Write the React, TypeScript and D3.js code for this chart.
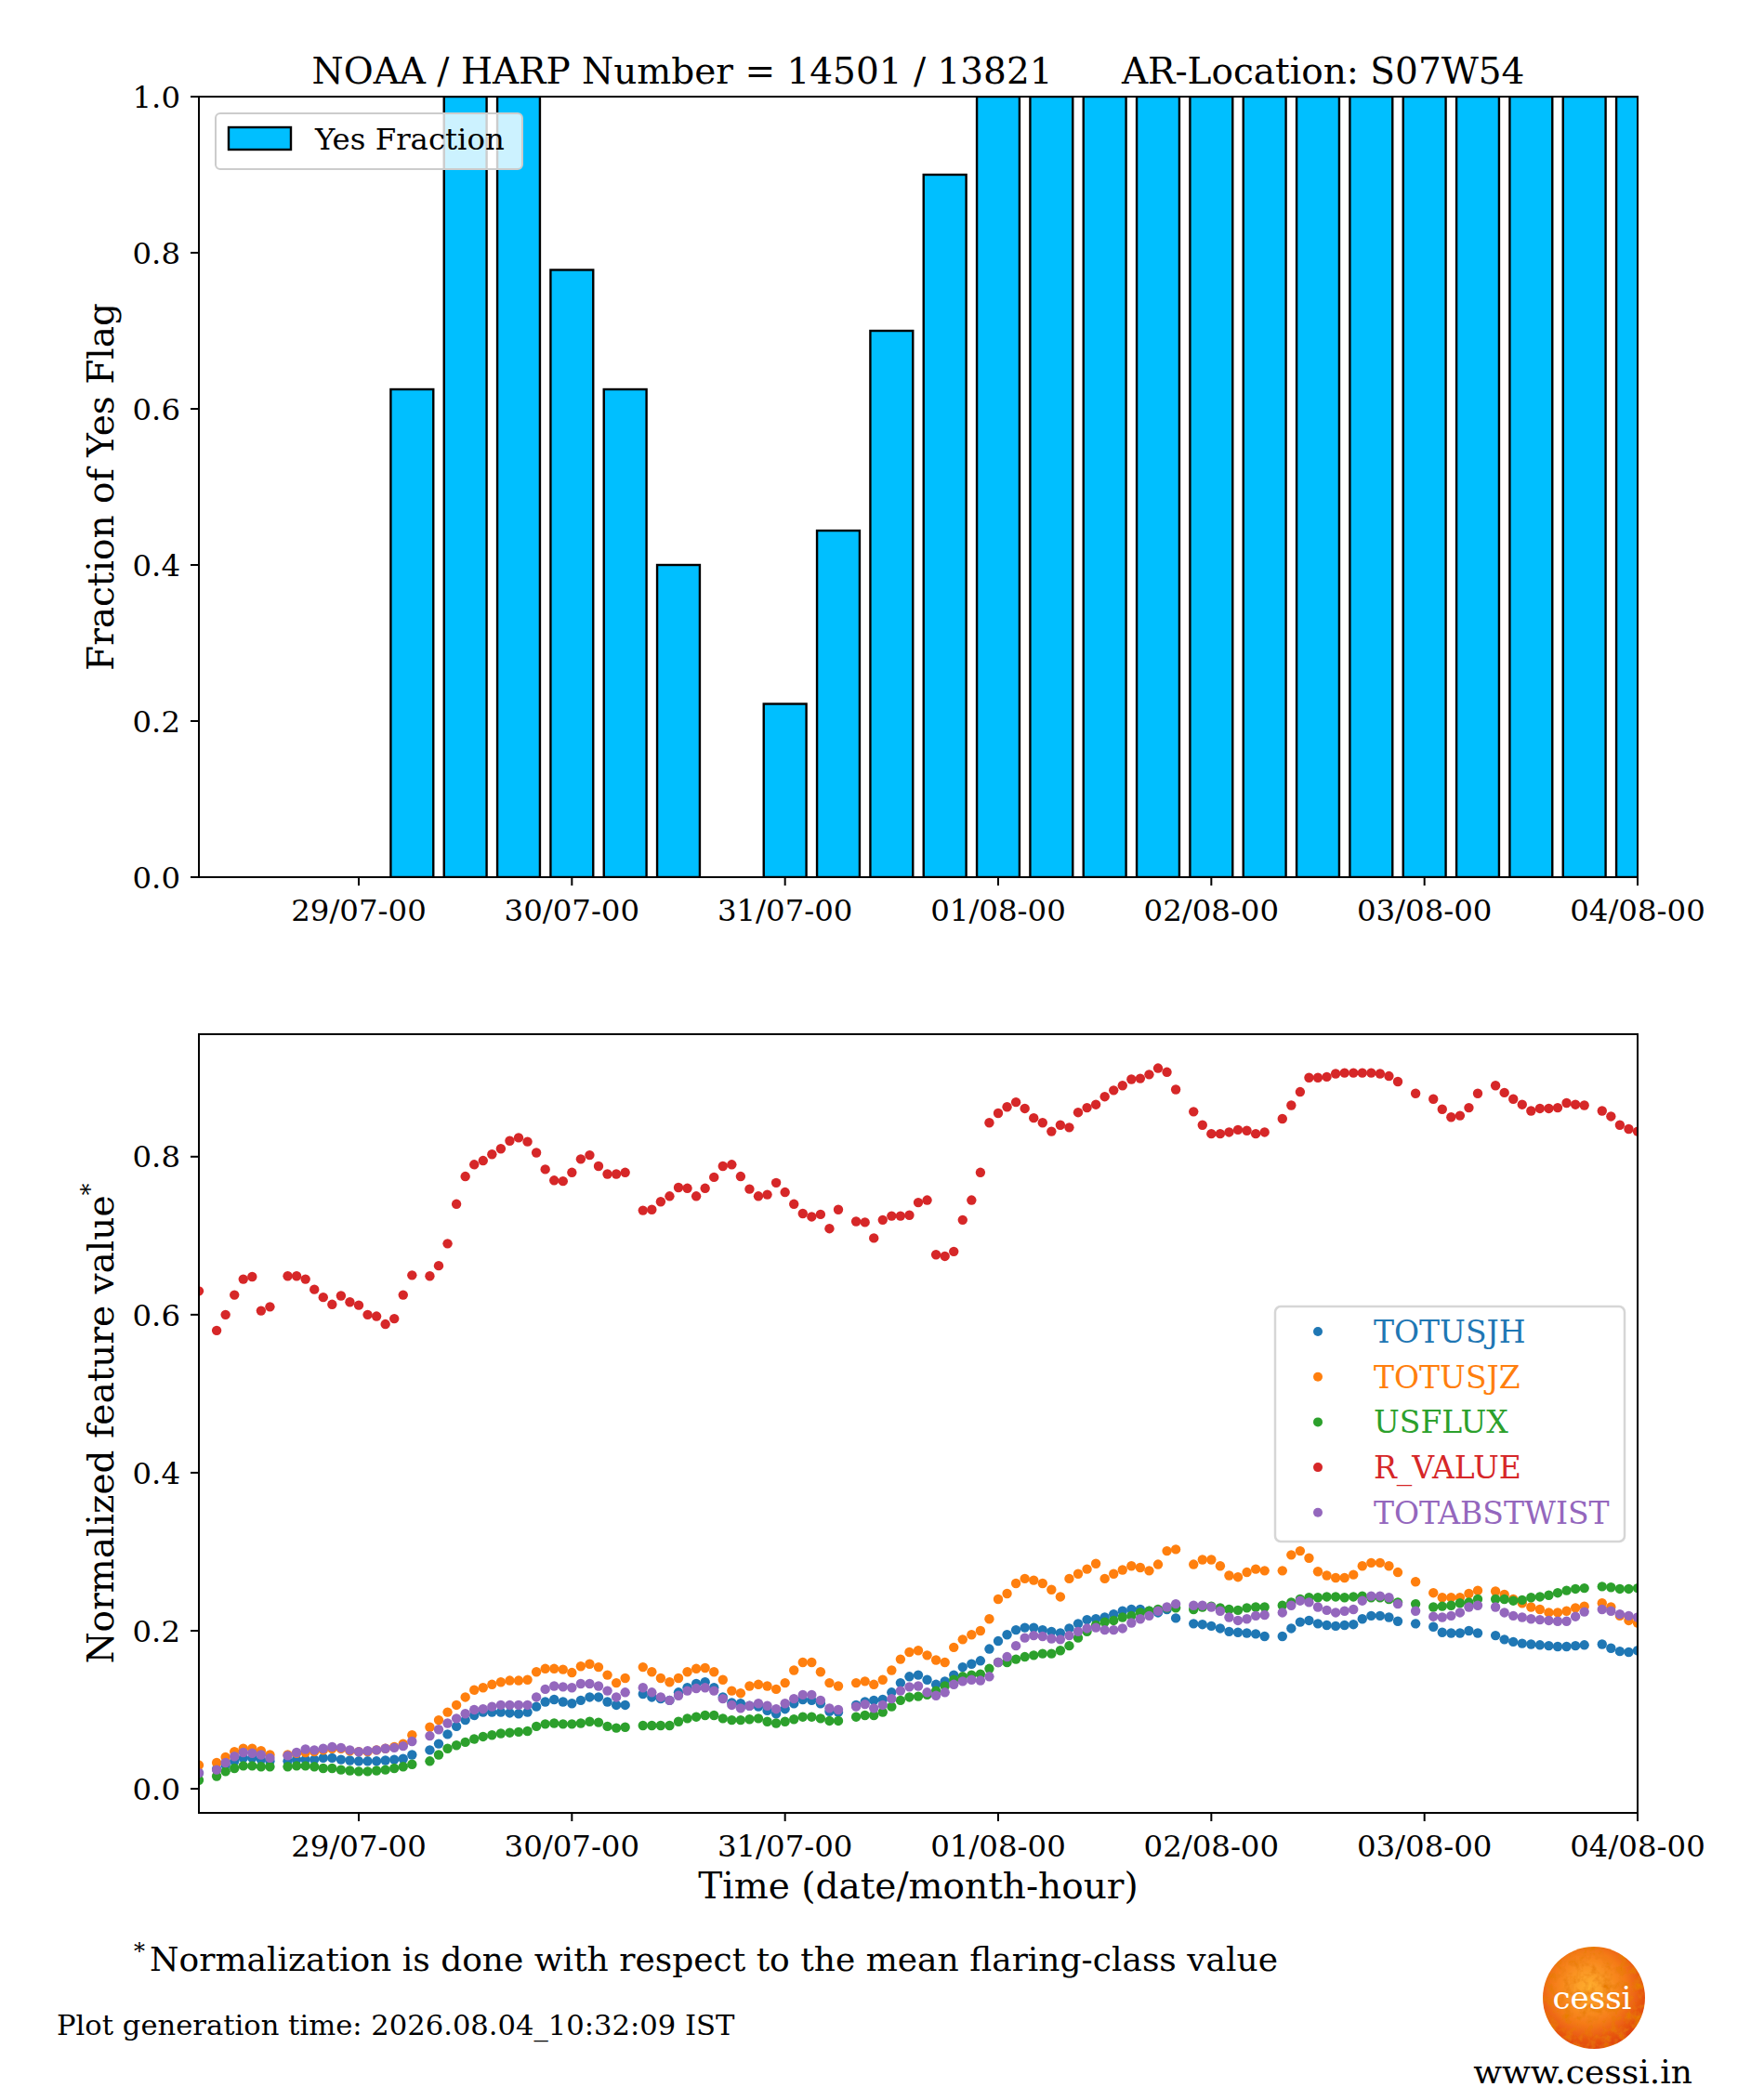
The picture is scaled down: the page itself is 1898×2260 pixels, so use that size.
import { useEffect, useRef } from "react";
import * as d3 from "d3";

const FONT = "'DejaVu Serif', serif";

// time window of both panels (UTC)
const startTime = new Date(Date.UTC(2026, 6, 28, 6));
const endTime = new Date(Date.UTC(2026, 7, 4, 0));
const dayTicks = ["2026-07-29", "2026-07-30", "2026-07-31", "2026-08-01", "2026-08-02", "2026-08-03", "2026-08-04"];

// top panel: fraction of YES flags in 6 hour bins
const barTimes = [
    "2026-07-29T06:00Z", "2026-07-29T12:00Z", "2026-07-29T18:00Z",
    "2026-07-30T00:00Z", "2026-07-30T06:00Z", "2026-07-30T12:00Z", "2026-07-30T18:00Z",
    "2026-07-31T00:00Z", "2026-07-31T06:00Z", "2026-07-31T12:00Z", "2026-07-31T18:00Z",
    "2026-08-01T00:00Z", "2026-08-01T06:00Z", "2026-08-01T12:00Z", "2026-08-01T18:00Z",
    "2026-08-02T00:00Z", "2026-08-02T06:00Z", "2026-08-02T12:00Z", "2026-08-02T18:00Z",
    "2026-08-03T00:00Z", "2026-08-03T06:00Z", "2026-08-03T12:00Z", "2026-08-03T18:00Z",
    "2026-08-04T00:00Z",
];
const yesFraction = [
    0.625, 1, 1,
    0.778, 0.625, 0.4, null,
    0.222, 0.444, 0.7, 0.9,
    1, 1, 1, 1,
    1, 1, 1, 1,
    1, 1, 1, 1,
    1,
];

// bottom panel: hourly samples from 28/07-06, normalized feature values
const TOTUSJH = [
    0.020, null, 0.025, 0.030, 0.035, 0.039, 0.039, 0.037, 0.035, null, 0.035, 0.037,
    0.037, 0.037, 0.039, 0.039, 0.037, 0.036, 0.035, 0.035, 0.035, 0.036, 0.037, 0.038,
    0.043, null, 0.049, 0.057, 0.069, 0.079, 0.087, 0.093, 0.097, 0.097, 0.097, 0.096,
    0.095, 0.097, 0.104, 0.110, 0.113, 0.110, 0.108, 0.112, 0.116, 0.116, 0.110, 0.106,
    0.106, null, 0.120, 0.116, 0.114, 0.112, 0.122, 0.128, 0.133, 0.135, 0.128, 0.116,
    0.109, 0.108, 0.105, 0.104, 0.099, 0.095, 0.101, 0.108, 0.113, 0.112, 0.108, 0.098,
    0.097, null, 0.106, 0.110, 0.112, 0.113, 0.122, 0.134, 0.142, 0.144, 0.138, 0.132,
    0.136, 0.144, 0.154, 0.158, 0.162, 0.177, 0.187, 0.195, 0.201, 0.204, 0.204, 0.201,
    0.199, 0.197, 0.203, 0.209, 0.214, 0.215, 0.217, 0.221, 0.225, 0.227, 0.227, 0.225,
    0.223, 0.227, 0.216, null, 0.209, 0.208, 0.206, 0.203, 0.199, 0.198, 0.197, 0.196,
    0.193, null, 0.193, 0.203, 0.211, 0.213, 0.209, 0.207, 0.206, 0.207, 0.208, 0.215,
    0.219, 0.219, 0.217, 0.212, null, 0.209, null, 0.205, 0.198, 0.197, 0.197, 0.200,
    0.197, null, 0.194, 0.189, 0.186, 0.184, 0.183, 0.182, 0.181, 0.180, 0.180, 0.181,
    0.182, null, 0.183, 0.178, 0.174, 0.173, 0.175,
];
const TOTUSJZ = [
    0.030, null, 0.033, 0.040, 0.047, 0.051, 0.051, 0.048, 0.043, null, 0.043, 0.045,
    0.046, 0.047, 0.049, 0.051, 0.051, 0.048, 0.047, 0.047, 0.049, 0.051, 0.053, 0.057,
    0.068, null, 0.078, 0.087, 0.097, 0.106, 0.116, 0.125, 0.128, 0.132, 0.135, 0.137,
    0.137, 0.138, 0.148, 0.152, 0.152, 0.151, 0.147, 0.155, 0.158, 0.154, 0.144, 0.134,
    0.140, null, 0.154, 0.148, 0.140, 0.135, 0.140, 0.148, 0.152, 0.153, 0.148, 0.138,
    0.124, 0.121, 0.130, 0.132, 0.130, 0.126, 0.134, 0.150, 0.160, 0.160, 0.148, 0.134,
    0.130, null, 0.134, 0.136, 0.132, 0.138, 0.150, 0.164, 0.173, 0.175, 0.169, 0.163,
    0.160, 0.179, 0.189, 0.195, 0.200, 0.215, 0.240, 0.247, 0.260, 0.266, 0.264, 0.260,
    0.252, 0.243, 0.266, 0.272, 0.278, 0.285, 0.266, 0.272, 0.277, 0.282, 0.280, 0.276,
    0.284, 0.301, 0.303, null, 0.284, 0.290, 0.290, 0.282, 0.270, 0.268, 0.274, 0.278,
    0.276, null, 0.276, 0.296, 0.301, 0.292, 0.275, 0.270, 0.267, 0.267, 0.271, 0.282,
    0.286, 0.286, 0.282, 0.274, null, 0.262, null, 0.248, 0.242, 0.242, 0.242, 0.247,
    0.251, null, 0.250, 0.246, 0.240, 0.235, 0.230, 0.227, 0.223, 0.223, 0.225, 0.229,
    0.231, null, 0.235, 0.230, 0.219, 0.213, 0.210,
];
const USFLUX = [
    0.011, null, 0.016, 0.022, 0.026, 0.029, 0.029, 0.028, 0.028, null, 0.028, 0.029,
    0.029, 0.028, 0.026, 0.026, 0.024, 0.023, 0.022, 0.022, 0.023, 0.024, 0.026, 0.028,
    0.031, null, 0.035, 0.043, 0.051, 0.055, 0.059, 0.063, 0.066, 0.068, 0.070, 0.071,
    0.072, 0.073, 0.079, 0.082, 0.083, 0.082, 0.082, 0.083, 0.085, 0.084, 0.079, 0.077,
    0.078, null, 0.080, 0.080, 0.080, 0.080, 0.085, 0.089, 0.091, 0.093, 0.093, 0.089,
    0.087, 0.087, 0.088, 0.089, 0.085, 0.083, 0.085, 0.088, 0.091, 0.091, 0.089, 0.086,
    0.086, null, 0.091, 0.093, 0.093, 0.097, 0.104, 0.112, 0.116, 0.117, 0.119, 0.124,
    0.130, 0.138, 0.142, 0.144, 0.145, 0.152, 0.160, 0.160, 0.164, 0.167, 0.169, 0.171,
    0.171, 0.175, 0.181, 0.191, 0.199, 0.207, 0.211, 0.213, 0.217, 0.219, 0.223, 0.225,
    0.227, 0.229, 0.229, null, 0.227, 0.230, 0.231, 0.229, 0.227, 0.226, 0.229, 0.230,
    0.230, null, 0.232, 0.236, 0.240, 0.242, 0.242, 0.243, 0.243, 0.242, 0.243, 0.244,
    0.242, 0.242, 0.240, 0.236, null, 0.234, null, 0.230, 0.231, 0.232, 0.235, 0.236,
    0.240, null, 0.240, 0.240, 0.238, 0.239, 0.242, 0.243, 0.245, 0.248, 0.251, 0.253,
    0.254, null, 0.256, 0.255, 0.253, 0.253, 0.254,
];
const R_VALUE = [
    0.630, null, 0.580, 0.600, 0.625, 0.645, 0.648, 0.605, 0.610, null, 0.649, 0.649,
    0.645, 0.632, 0.622, 0.613, 0.624, 0.616, 0.612, 0.600, 0.598, 0.588, 0.595, 0.625,
    0.650, null, 0.649, 0.662, 0.690, 0.740, 0.775, 0.790, 0.795, 0.803, 0.810, 0.820,
    0.824, 0.819, 0.805, 0.784, 0.770, 0.769, 0.780, 0.797, 0.802, 0.788, 0.778, 0.778,
    0.780, null, 0.732, 0.733, 0.743, 0.750, 0.761, 0.760, 0.750, 0.760, 0.774, 0.788,
    0.790, 0.775, 0.759, 0.750, 0.752, 0.767, 0.755, 0.740, 0.728, 0.724, 0.727, 0.709,
    0.733, null, 0.718, 0.717, 0.697, 0.720, 0.725, 0.725, 0.726, 0.742, 0.745, 0.676,
    0.674, 0.680, 0.720, 0.745, 0.780, 0.843, 0.855, 0.863, 0.869, 0.861, 0.849, 0.843,
    0.832, 0.840, 0.837, 0.856, 0.862, 0.866, 0.876, 0.884, 0.890, 0.898, 0.899, 0.904,
    0.912, 0.907, 0.885, null, 0.857, 0.840, 0.829, 0.829, 0.831, 0.834, 0.833, 0.829,
    0.831, null, 0.848, 0.865, 0.882, 0.900, 0.900, 0.901, 0.905, 0.906, 0.906, 0.906,
    0.906, 0.905, 0.902, 0.895, null, 0.880, null, 0.873, 0.860, 0.850, 0.852, 0.862,
    0.880, null, 0.890, 0.881, 0.873, 0.866, 0.858, 0.861, 0.861, 0.862, 0.868, 0.866,
    0.865, null, 0.858, 0.851, 0.840, 0.835, 0.832,
];
const TOTABSTWIST = [
    0.020, null, 0.024, 0.033, 0.041, 0.046, 0.045, 0.043, 0.039, null, 0.042, 0.046,
    0.050, 0.049, 0.051, 0.053, 0.052, 0.049, 0.047, 0.048, 0.049, 0.051, 0.052, 0.054,
    0.060, null, 0.067, 0.075, 0.083, 0.089, 0.095, 0.100, 0.101, 0.104, 0.106, 0.106,
    0.106, 0.106, 0.116, 0.126, 0.130, 0.129, 0.128, 0.133, 0.133, 0.130, 0.124, 0.116,
    0.122, null, 0.128, 0.122, 0.116, 0.112, 0.118, 0.124, 0.127, 0.128, 0.124, 0.114,
    0.106, 0.102, 0.105, 0.108, 0.105, 0.101, 0.108, 0.114, 0.119, 0.119, 0.112, 0.102,
    0.100, null, 0.104, 0.107, 0.102, 0.106, 0.114, 0.124, 0.129, 0.130, 0.122, 0.118,
    0.122, 0.132, 0.136, 0.138, 0.137, 0.142, 0.160, 0.167, 0.181, 0.191, 0.194, 0.193,
    0.190, 0.189, 0.194, 0.199, 0.203, 0.204, 0.201, 0.201, 0.203, 0.210, 0.215, 0.219,
    0.225, 0.230, 0.234, null, 0.232, 0.232, 0.230, 0.225, 0.217, 0.213, 0.215, 0.219,
    0.220, null, 0.223, 0.232, 0.238, 0.236, 0.230, 0.226, 0.223, 0.225, 0.227, 0.238,
    0.244, 0.244, 0.242, 0.234, null, 0.225, null, 0.218, 0.217, 0.219, 0.223, 0.230,
    0.232, null, 0.230, 0.223, 0.219, 0.217, 0.215, 0.214, 0.213, 0.212, 0.212, 0.218,
    0.224, null, 0.227, 0.225, 0.221, 0.219, 0.217,
];

const seriesNames = ["TOTUSJH", "TOTUSJZ", "USFLUX", "R_VALUE", "TOTABSTWIST"];
const seriesColors = ["#1f77b4", "#ff7f0e", "#2ca02c", "#d62728", "#9467bd"];
const seriesValues = [TOTUSJH, TOTUSJZ, USFLUX, R_VALUE, TOTABSTWIST];

const topTicks = [0, 0.2, 0.4, 0.6, 0.8, 1.0];
const bottomTicks = [0, 0.2, 0.4, 0.6, 0.8];

export default function App() {
    const svgRef = useRef<SVGSVGElement>(null);

    useEffect(() => {
        if (!svgRef.current) return;
        const svg = d3.select(svgRef.current);
        svg.selectAll("*").remove();

        const left = 214;
        const right = 1762;
        const top1 = { top: 104, bottom: 944 };
        const top2 = { top: 1113, bottom: 1951 };

        const x = d3.scaleUtc().domain([startTime, endTime]).range([left, right]);
        const y1 = d3.scaleLinear().domain([0, 1]).range([top1.bottom, top1.top]);
        const y2 = d3.scaleLinear().domain([-0.0305, 0.955]).range([top2.bottom, top2.top]);
        const fmt = d3.utcFormat("%d/%m-%H");

        const defs = svg.append("defs");
        defs.append("clipPath").attr("id", "clip1")
            .append("rect").attr("x", left).attr("y", top1.top)
            .attr("width", right - left).attr("height", top1.bottom - top1.top);
        defs.append("clipPath").attr("id", "clip2")
            .append("rect").attr("x", left).attr("y", top2.top)
            .attr("width", right - left).attr("height", top2.bottom - top2.top);

        // sun logo
        const grad = defs.append("radialGradient").attr("id", "sun").attr("cx", "45%").attr("cy", "40%").attr("r", "60%");
        grad.append("stop").attr("offset", "0%").attr("stop-color", "#ffb030");
        grad.append("stop").attr("offset", "60%").attr("stop-color", "#f57a18");
        grad.append("stop").attr("offset", "100%").attr("stop-color", "#e0440c");
        const filt = defs.append("filter").attr("id", "grain");
        filt.append("feTurbulence").attr("type", "fractalNoise").attr("baseFrequency", 0.12).attr("numOctaves", 3).attr("seed", 4).attr("result", "noise");
        filt.append("feColorMatrix").attr("in", "noise").attr("type", "matrix")
            .attr("values", "0 0 0 0 0.8  0 0 0 0 0.2  0 0 0 0 0.0  0 0 0 2.2 -0.9").attr("result", "tint");
        filt.append("feComposite").attr("in", "tint").attr("in2", "SourceGraphic").attr("operator", "atop");

        const axesFrame = (yTop: number, yBottom: number) => {
            svg.append("rect")
                .attr("x", left).attr("y", yTop)
                .attr("width", right - left).attr("height", yBottom - yTop)
                .attr("fill", "none").attr("stroke", "black").attr("stroke-width", 2);
        };

        const xAxis = (yBottom: number, labelY: number) => {
            dayTicks.forEach((d) => {
                const xx = x(new Date(d + "T00:00Z"));
                svg.append("line").attr("x1", xx).attr("x2", xx).attr("y1", yBottom).attr("y2", yBottom + 9)
                    .attr("stroke", "black").attr("stroke-width", 2);
                svg.append("text").attr("x", xx).attr("y", labelY)
                    .attr("text-anchor", "middle").attr("font-family", FONT).attr("font-size", 32.4)
                    .text(fmt(new Date(d + "T00:00Z")));
            });
        };

        const yAxis = (scale: d3.ScaleLinear<number, number>, ticks: number[]) => {
            ticks.forEach((t) => {
                const yy = scale(t);
                svg.append("line").attr("x1", left - 9).attr("x2", left).attr("y1", yy).attr("y2", yy)
                    .attr("stroke", "black").attr("stroke-width", 2);
                svg.append("text").attr("x", left - 20).attr("y", yy).attr("dy", "0.36em")
                    .attr("text-anchor", "end").attr("font-family", FONT).attr("font-size", 32.4)
                    .text(t.toFixed(1));
            });
        };

        // ---------- top panel ----------
        const barW = x(new Date("2026-07-29T04:48Z")) - x(new Date("2026-07-29T00:00Z"));
        svg.append("g").attr("clip-path", "url(#clip1)")
            .selectAll("rect")
            .data(barTimes.map((t, i) => ({ t: new Date(t), v: yesFraction[i] })).filter((d) => d.v != null))
            .join("rect")
            .attr("x", (d) => x(d.t) - barW / 2)
            .attr("y", (d) => y1(d.v as number))
            .attr("width", barW)
            .attr("height", (d) => y1(0) - y1(d.v as number))
            .attr("fill", "#00bfff")
            .attr("stroke", "black")
            .attr("stroke-width", 2.4);

        axesFrame(top1.top, top1.bottom);
        xAxis(top1.bottom, 991);
        yAxis(y1, topTicks);

        svg.append("text")
            .attr("x", (left + right) / 2).attr("y", 90)
            .attr("text-anchor", "middle").attr("font-family", FONT).attr("font-size", 39)
            .style("white-space", "pre")
            .text("NOAA / HARP Number = 14501 / 13821      AR-Location: S07W54");

        svg.append("text")
            .attr("transform", `translate(122,${(top1.top + top1.bottom) / 2}) rotate(-90)`)
            .attr("text-anchor", "middle").attr("font-family", FONT).attr("font-size", 39)
            .text("Fraction of Yes Flag");

        // legend (top)
        svg.append("rect").attr("x", 232).attr("y", 122).attr("width", 330).attr("height", 60)
            .attr("rx", 5).attr("fill", "white").attr("fill-opacity", 0.8)
            .attr("stroke", "#cccccc").attr("stroke-width", 2);
        svg.append("rect").attr("x", 246).attr("y", 137).attr("width", 67).attr("height", 24)
            .attr("fill", "#00bfff").attr("stroke", "black").attr("stroke-width", 2.4);
        svg.append("text").attr("x", 339).attr("y", 161)
            .attr("font-family", FONT).attr("font-size", 32.4).text("Yes Fraction");

        // ---------- bottom panel ----------
        const pts = svg.append("g").attr("clip-path", "url(#clip2)");
        seriesValues.forEach((vals, si) => {
            pts.append("g").selectAll("circle")
                .data(vals.map((v, i) => ({ t: d3.utcHour.offset(startTime, i), v })).filter((d) => d.v != null))
                .join("circle")
                .attr("cx", (d) => x(d.t))
                .attr("cy", (d) => y2(d.v as number))
                .attr("r", 5.2)
                .attr("fill", seriesColors[si]);
        });

        axesFrame(top2.top, top2.bottom);
        xAxis(top2.bottom, 1998);
        yAxis(y2, bottomTicks);

        const yl = svg.append("text")
            .attr("transform", `translate(122,${(top2.top + top2.bottom) / 2}) rotate(-90)`)
            .attr("text-anchor", "middle").attr("font-family", FONT).attr("font-size", 39);
        yl.append("tspan").text("Normalized feature value");
        yl.append("tspan").attr("font-size", 26).attr("dy", -16).text("*");

        svg.append("text").attr("x", (left + right) / 2).attr("y", 2043)
            .attr("text-anchor", "middle").attr("font-family", FONT).attr("font-size", 39)
            .text("Time (date/month-hour)");

        // legend (bottom)
        svg.append("rect").attr("x", 1372).attr("y", 1406).attr("width", 376).attr("height", 253)
            .attr("rx", 6).attr("fill", "white").attr("fill-opacity", 0.8)
            .attr("stroke", "#d6d6d6").attr("stroke-width", 2.5);
        seriesNames.forEach((name, i) => {
            const ry = 1433 + i * 48.7;
            svg.append("circle").attr("cx", 1418).attr("cy", ry).attr("r", 5).attr("fill", seriesColors[i]);
            svg.append("text").attr("x", 1478).attr("y", ry + 12)
                .attr("font-family", FONT).attr("font-size", 33).attr("fill", seriesColors[i])
                .text(name);
        });

        // ---------- footer ----------
        svg.append("text").attr("x", 144).attr("y", 2108)
            .attr("font-family", FONT).attr("font-size", 24).text("*");
        svg.append("text").attr("x", 161).attr("y", 2121)
            .attr("font-family", FONT).attr("font-size", 36)
            .text("Normalization is done with respect to the mean flaring-class value");
        svg.append("text").attr("x", 61).attr("y", 2190)
            .attr("font-family", FONT).attr("font-size", 30.6)
            .text("Plot generation time: 2026.08.04_10:32:09 IST");

        svg.append("circle").attr("cx", 1715).attr("cy", 2150).attr("r", 55)
            .attr("fill", "url(#sun)").attr("filter", "url(#grain)");
        svg.append("text").attr("x", 1713).attr("y", 2162)
            .attr("text-anchor", "middle").attr("font-family", FONT).attr("font-size", 34)
            .attr("fill", "white").text("cessi");
        svg.append("text").attr("x", 1703).attr("y", 2242)
            .attr("text-anchor", "middle").attr("font-family", FONT).attr("font-size", 36)
            .text("www.cessi.in");
    }, []);

    return (
        <svg
            ref={svgRef}
            width={1898}
            height={2260}
            style={{ position: "absolute", left: 0, top: 0, background: "white" }}
        />
    );
}
